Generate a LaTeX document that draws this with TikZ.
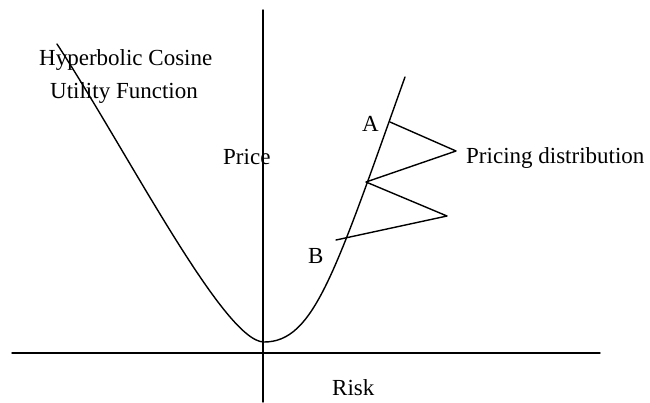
\documentclass[tikz,border=0pt]{standalone}
\usepackage{fontspec}
\setmainfont{Liberation Serif}
\begin{document}
\begin{tikzpicture}[x=1pt,y=-1pt,
  lbl/.style={anchor=base west,inner sep=0pt,font=\fontsize{23}{27}\selectfont},
  ln/.style={line width=1.4pt,line cap=round,line join=round}]
\useasboundingbox (0,0) rectangle (650,402);
% axes
\coordinate (hx0) at (12,353);
\coordinate (hx1) at (600,353);
\coordinate (vy0) at (263,10);
\coordinate (vy1) at (263,402);
\draw[ln] (hx0) -- (hx1);
\draw[ln] (vy0) -- (vy1);
% curve
\coordinate (cmin) at (264,342);
\coordinate (cl) at (57,44);
\coordinate (cr) at (405,77);
\draw[ln] (cl) .. controls (127,151) and (224,342) .. (cmin)
  .. controls (314,342) and (335,273) .. (cr);
% zigzag
\coordinate (z1) at (390,122);
\coordinate (z2) at (456,151);
\coordinate (z3) at (366,182);
\coordinate (z4) at (447,216);
\coordinate (z5) at (336,240);
\draw[ln] (z1) -- (z2) -- (z3) -- (z4) -- (z5);
% labels
\node[lbl] (t1) at (39,65) {Hyperbolic Cosine};
\node[lbl] (t2) at (50,98) {Utility Function};
\node[lbl] (tp) at (223,164) {Price};
\node[lbl] (ta) at (362,131) {A};
\node[lbl] (tb) at (308,263) {B};
\node[lbl] (tpd) at (466,163) {Pricing distribution};
\node[lbl] (tr) at (332,395) {Risk};
\end{tikzpicture}
\end{document}
